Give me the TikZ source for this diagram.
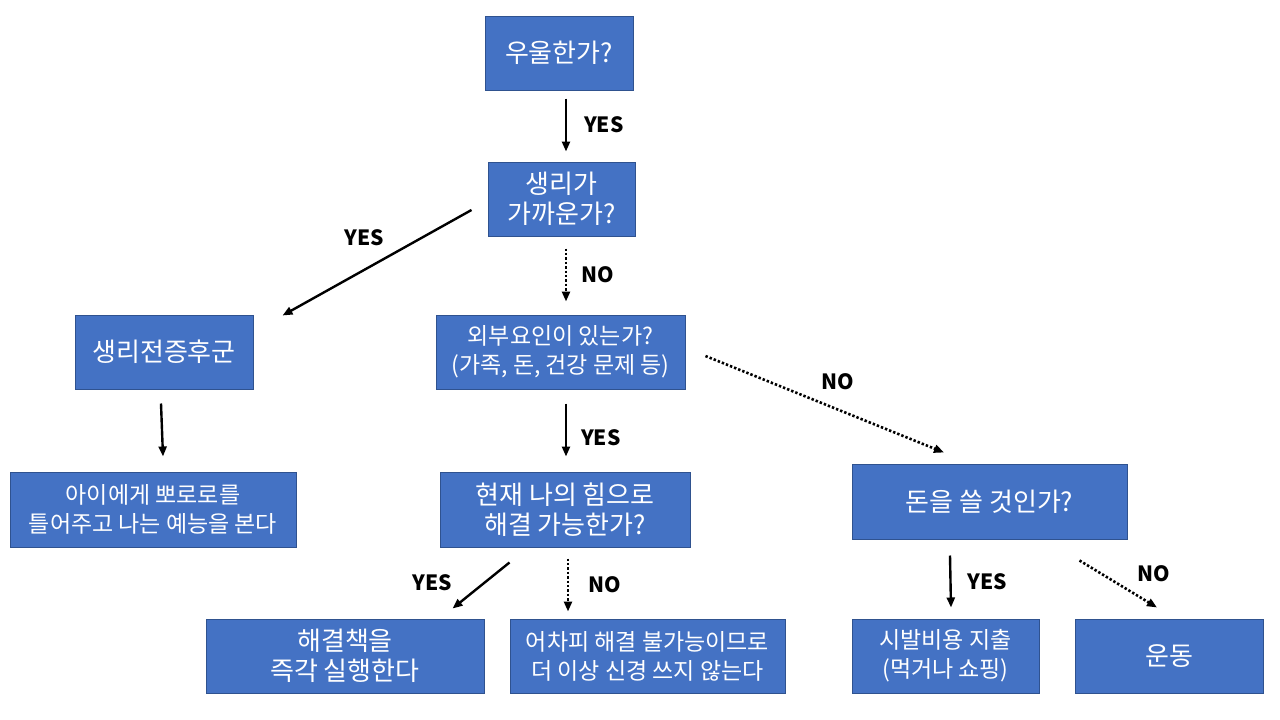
\documentclass[tikz,border=0pt]{standalone}
\usepackage{fontspec}
\setmainfont{Noto Sans CJK KR}
\usepackage{tikz}
\usetikzlibrary{positioning,calc,arrows.meta}
\definecolor{boxfill}{HTML}{4472C4}
\definecolor{boxline}{HTML}{2F528F}

\begin{document}
\begin{tikzpicture}[x=1pt, y=-1pt, line width=2.4pt,
    box/.style = {draw=boxline, line width=1pt, fill=boxfill, text=white, align=center, inner sep=0pt, font=\fontsize{26}{30}\selectfont},
    smalltext/.style = {font=\fontsize{23}{29}\selectfont},
    lbl/.style = {font=\fontsize{21}{24}\selectfont\bfseries, inner sep=0pt},
    go/.style = {-{Triangle[length=10pt,width=8pt]}},
    maybe/.style = {go, line width=2.6pt, dash pattern=on 2.4pt off 2pt}]
            \useasboundingbox (0,0) rectangle (1280,720);
            % Nodes
            \node[box, minimum width=148pt, minimum height=74pt] (1) at (559,53) {우울한가?};
            \node[box, minimum width=147pt, minimum height=74pt] (2) at (561.5,199) {생리가\\가까운가?};
            \node[box, minimum width=178pt, minimum height=74pt] (3) at (164,352) {생리전증후군};
            \node[box, smalltext, minimum width=249pt, minimum height=74pt] (4) at (560.5,352) {외부요인이 있는가?\\(가족, 돈, 건강 문제 등)};
            \node[box, smalltext, minimum width=286pt, minimum height=75pt] (5) at (153,509.5) {아이에게 뽀로로를\\틀어주고 나는 예능을 본다};
            \node[box, minimum width=250pt, minimum height=75pt] (6) at (565,509.5) {현재 나의 힘으로\\해결 가능한가?};
            \node[box, minimum width=275pt, minimum height=75pt] (7) at (989.5,501.5) {돈을 쓸 것인가?};
            \node[box, minimum width=278pt, minimum height=74pt] (8) at (345,656) {해결책을\\즉각 실행한다};
            \node[box, smalltext, minimum width=275pt, minimum height=74pt] (9) at (647.5,656) {어차피 해결 불가능이므로\\더 이상 신경 쓰지 않는다};
            \node[box, smalltext, minimum width=187pt, minimum height=74pt] (10) at (945.5,656) {시발비용 지출\\(먹거나 쇼핑)};
            \node[box, minimum width=188pt, minimum height=74pt] (11) at (1169,656) {운동};
            % Edges
            \draw[go] ($(1.south)+(7,8)$) -- node[lbl, midway, right=17pt] {YES} ($(2.north)+(4.5,-10)$);
            \draw[go] ($(2.west)+(-16,11)$) -- node[lbl, midway, above=16pt, xshift=-13pt] {YES} ($(3.north east)+(29,1)$);
            \draw[maybe] ($(2.south)+(4.5,12)$) -- node[lbl, midway, right=14pt] {NO} ($(4.north)+(5.5,-13)$);
            \draw[maybe] ($(4.east)+(20,4)$) -- node[lbl, midway, above=13pt, xshift=13pt] {NO} ($(7.north)+(-45.5,-11)$);
            \draw[go] ($(3.south)+(-3,14)$) -- ($(5.north)+(10,-15)$);
            \draw[go] ($(4.south)+(5.5,14)$) -- node[lbl, midway, right=14pt, yshift=-8pt] {YES} ($(6.north)+(1,-15)$);
            \draw[go] ($(6.south west)+(70,15)$) -- node[lbl, midway, left=28pt, yshift=3pt] {YES} ($(8.north east)+(-32,-10)$);
            \draw[maybe] ($(6.south)+(3,11)$) -- node[lbl, midway, right=19pt] {NO} ($(9.north)+(-79.5,-7)$);
            \draw[go] ($(7.south)+(-39.5,16)$) -- node[lbl, midway, right=16pt] {YES} ($(10.north)+(5.5,-11)$);
            \draw[maybe] ($(7.south east)+(-48,21)$) -- node[lbl, midway, above right=1pt and 18pt] {NO} ($(11.north)+(-12,-11)$);
            \end{tikzpicture}
\end{document}
